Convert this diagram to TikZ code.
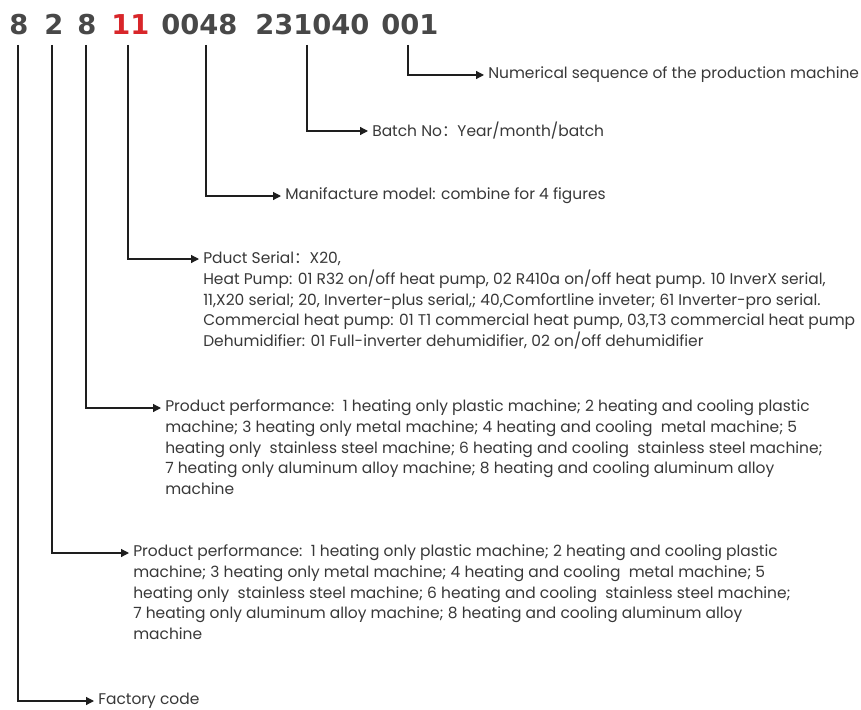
\documentclass[tikz,border=0pt]{standalone}
\usepackage{fontspec}
\setmainfont{Poppins}
\newfontfamily\digitfont{DejaVu Sans}
\newfontfamily\cjk{Noto Sans CJK SC}
\usetikzlibrary{arrows.meta}
\definecolor{txt}{HTML}{383838}
\definecolor{dig}{HTML}{484848}
\definecolor{redd}{HTML}{D8262A}
\definecolor{ln}{HTML}{1E1E1E}
\newcommand{\fcol}{{\cjk ：}}
\begin{document}
\begin{tikzpicture}[x=0.75pt,y=-0.75pt,
  digits/.style={anchor=base west,inner sep=0pt,font=\digitfont\bfseries\fontsize{20.5}{24}\selectfont,text=dig},
  lbl/.style={anchor=west,inner ysep=0pt,inner xsep=3pt,font=\fontsize{11.6}{15.5}\selectfont,text=txt},
  more/.style={anchor=base west,inner ysep=0pt,inner xsep=3pt,font=\fontsize{11.6}{15.5}\selectfont,text=txt},
  conn/.style={draw=ln,line width=0.9pt,-{Triangle[length=6pt,width=6pt]}}]
\useasboundingbox (0,0) rectangle (861,710);
% code digits
\node[digits] (d1) at (9,35) {8};
\node[digits] (d2) at (44,35) {2};
\node[digits] (d3) at (77,35) {8};
\node[digits,text=redd] (d4) at (111,35) {11};
\node[digits] (d5) at (161,35) {0048};
\node[digits] (d6) at (255,35) {231040};
\node[digits] (d7) at (381,35) {001};
% tick starts
\coordinate (t1) at (18,45);
\coordinate (t2) at (52,45);
\coordinate (t3) at (86,45);
\coordinate (t4) at (128,45);
\coordinate (t5) at (206,45);
\coordinate (t6) at (307,45);
\coordinate (t7) at (408,45);
% labels
\node[lbl] (l7) at (484,75) {Numerical sequence of the production machine};
\node[lbl] (l6) at (368,131) {Batch No\fcol Year/month/batch};
\node[lbl] (l5) at (281,196) {Manifacture model: combine for 4 figures};
\node[lbl] (l4) at (199,259) {Pduct Serial\fcol X20,};
\node[more] (l4b) at ([yshift=-15.5pt]l4.base west) {Heat Pump: 01 R32 on/off heat pump, 02 R410a on/off heat pump. 10 InverX serial,};
\node[more] (l4c) at ([yshift=-15.5pt]l4b.base west) {11,X20 serial; 20, Inverter-plus serial,; 40,Comfortline inveter; 61 Inverter-pro serial.};
\node[more] (l4d) at ([yshift=-15.5pt]l4c.base west) {Commercial heat pump: 01 T1 commercial heat pump, 03,T3 commercial heat pump};
\node[more] (l4e) at ([yshift=-15.5pt]l4d.base west) {Dehumidifier: 01 Full-inverter dehumidifier, 02 on/off dehumidifier};
\node[lbl] (l3) at (161,408) {Product performance:\ \ 1 heating only plastic machine; 2 heating and cooling plastic};
\node[more] (l3b) at ([yshift=-15.5pt]l3.base west) {machine; 3 heating only metal machine; 4 heating and cooling\ \ metal machine; 5};
\node[more] (l3c) at ([yshift=-15.5pt]l3b.base west) {heating only\ \ stainless steel machine; 6 heating and cooling\ \ stainless steel machine;};
\node[more] (l3d) at ([yshift=-15.5pt]l3c.base west) {7 heating only aluminum alloy machine; 8 heating and cooling aluminum alloy};
\node[more] (l3e) at ([yshift=-15.5pt]l3d.base west) {machine};
\node[lbl] (l2) at (129,553) {Product performance:\ \ 1 heating only plastic machine; 2 heating and cooling plastic};
\node[more] (l2b) at ([yshift=-15.5pt]l2.base west) {machine; 3 heating only metal machine; 4 heating and cooling\ \ metal machine; 5};
\node[more] (l2c) at ([yshift=-15.5pt]l2b.base west) {heating only\ \ stainless steel machine; 6 heating and cooling\ \ stainless steel machine;};
\node[more] (l2d) at ([yshift=-15.5pt]l2c.base west) {7 heating only aluminum alloy machine; 8 heating and cooling aluminum alloy};
\node[more] (l2e) at ([yshift=-15.5pt]l2d.base west) {machine};
\node[lbl] (l1) at (94,701) {Factory code};
% connectors
\draw[conn] (t7) |- (l7.west);
\draw[conn] (t6) |- (l6.west);
\draw[conn] (t5) |- (l5.west);
\draw[conn] (t4) |- (l4.west);
\draw[conn] (t3) |- (l3.west);
\draw[conn] (t2) |- (l2.west);
\draw[conn] (t1) |- (l1.west);
\end{tikzpicture}
\end{document}
